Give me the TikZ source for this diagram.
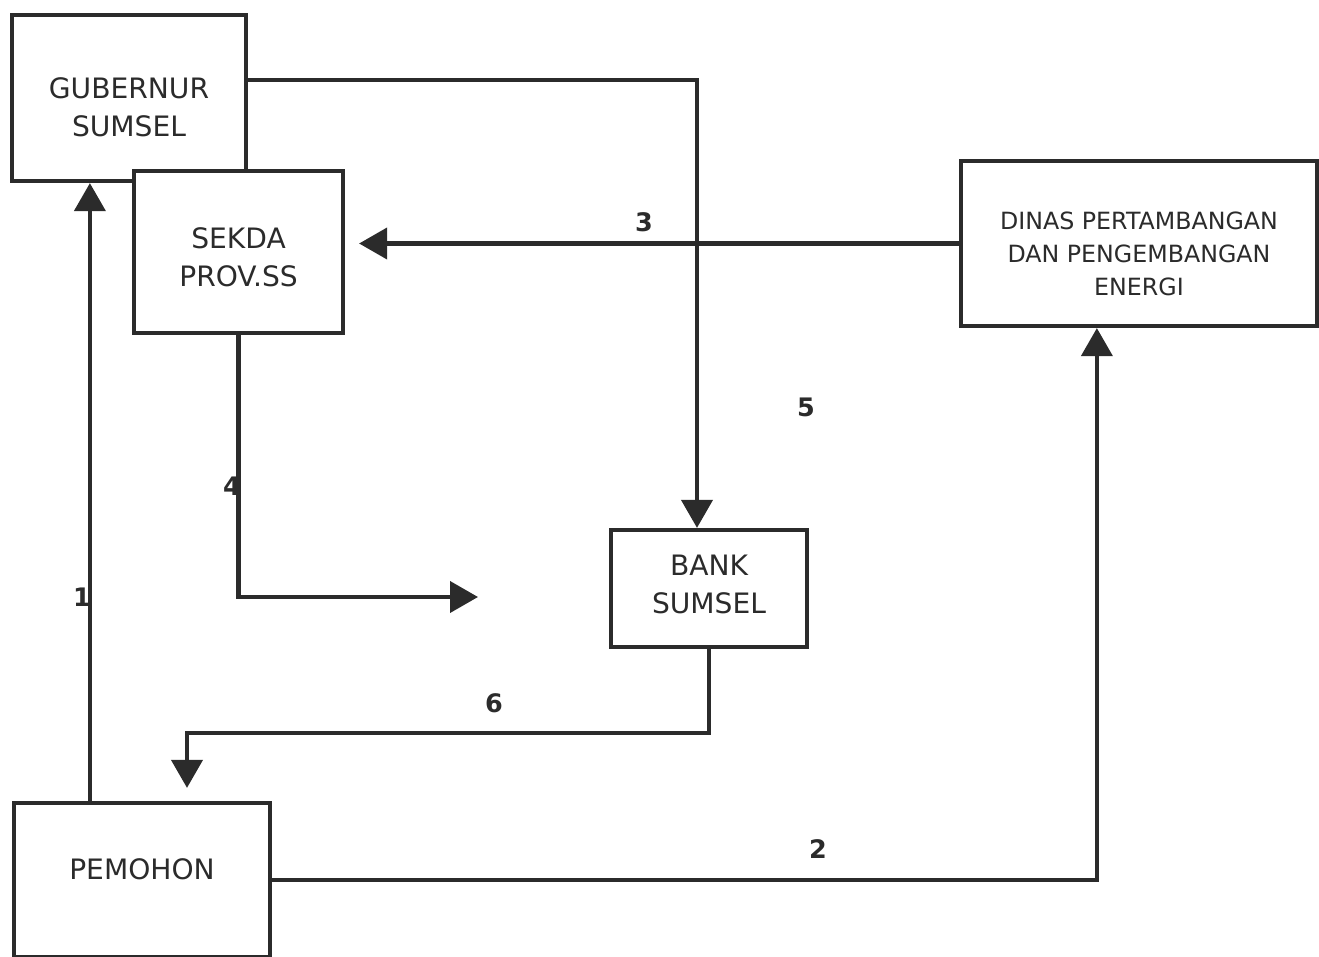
\documentclass[tikz,border=0pt]{standalone}
\usepackage{fontspec}
\setsansfont{DejaVu Sans}
\usepackage{xcolor}
\definecolor{ink}{HTML}{2B2B2B}
\usetikzlibrary{arrows.meta,positioning,calc}
\tikzset{
  >={Triangle[length=5.6mm,width=6.2mm]},
  box/.style={draw=ink,line width=2.4pt,fill=white,align=center,inner sep=2pt,
    font=\sffamily\fontsize{16}{21.5}\selectfont,text=ink},
  arr/.style={->,draw=ink,line width=2.3pt},
  num/.style={font=\sffamily\bfseries\fontsize{14.5}{16}\selectfont,text=ink},
}
\begin{document}
\begin{tikzpicture}
\useasboundingbox (0,0) rectangle (26.38,-19.14);
\node[box,minimum width=4.68cm,minimum height=3.32cm,text height=1.53cm,text depth=0cm] (gub) at (2.58,-1.96) {GUBERNUR\\SUMSEL};
\node[box,minimum width=4.18cm,minimum height=3.24cm,text height=1.37cm,text depth=0cm] (sekda) at (4.77,-5.04) {SEKDA\\PROV.SS};
\node[box,minimum width=7.12cm,minimum height=3.30cm,text height=2.08cm,text depth=0cm,
  font=\sffamily\fontsize{13.5}{18.8}\selectfont] (dinas) at (22.78,-4.87) {DINAS PERTAMBANGAN\\DAN PENGEMBANGAN\\ENERGI};
\node[box,minimum width=3.92cm,minimum height=2.34cm,text height=1.01cm,text depth=0cm] (bank) at (14.18,-11.77) {BANK\\SUMSEL};
\node[box,minimum width=5.12cm,minimum height=3.08cm,text height=0.4cm,text depth=0.44cm] (pem) at (2.84,-17.6) {PEMOHON};
\coordinate (end4) at (9.56,-11.94);
% connectors
\draw[arr] ([xshift=1.56cm]pem.north west) -- ([xshift=1.56cm]pem.north west |- gub.south);
\draw[arr] (pem.east) -| ([xshift=2.76cm]dinas.south west);
\draw[arr] (dinas.west) -- ([xshift=0.28cm]sekda.east |- dinas.west);
\draw[arr] (sekda.south) |- (end4);
\draw[arr] ([yshift=0.36cm]gub.east) -| ([xshift=-0.24cm]bank.north);
\draw[arr] (bank.south) -- ++(0,-1.68) -| ([xshift=0.9cm,yshift=0.26cm]pem.north);
% step numbers
\node[num] (n1) at (1.64,-11.94) {1};
\node[num] (n2) at (16.36,-16.98) {2};
\node[num] (n3) at (12.88,-4.44) {3};
\node[num] (n4) at (4.64,-9.72) {4};
\node[num] (n5) at (16.12,-8.14) {5};
\node[num] (n6) at (9.88,-14.06) {6};
\end{tikzpicture}
\end{document}
